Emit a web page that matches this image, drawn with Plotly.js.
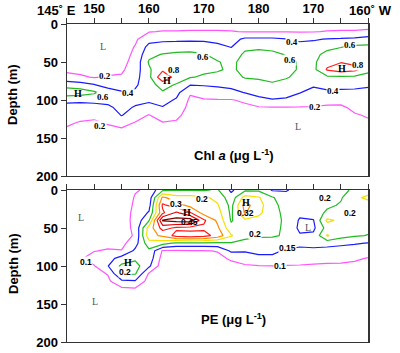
<!DOCTYPE html>
<html>
<head>
<meta charset="utf-8">
<script src="https://cdn.plot.ly/plotly-3.0.1.min.js"></script>
<style>html,body{margin:0;padding:0;background:#fff;}#chart{width:400px;height:353px;}</style>
</head>
<body>
<div id="chart"></div>
<script>
// Station longitudes (degrees east; 190 = 170W, 200 = 160W) and sample depths (m)
const lon = [145,147.5,150,152.5,155,157.5,160,162.5,165,167.5,170,172.5,175,177.5,180,182.5,185,187.5,190,192.5,195,197.5,200];
const depth = [0,10,20,30,40,50,60,70,80,90,100,110,120,130,140,150,175,200];

// Chl a profiles (ug/L), one list per longitude, values by depth
const chlProfiles = [
[0.10,0.10,0.11,0.12,0.14,0.15,0.16,0.26,0.52,0.72,0.45,0.33,0.27,0.22,0.18,0.15,0.10,0.08],
[0.10,0.10,0.11,0.12,0.13,0.14,0.16,0.22,0.48,0.70,0.45,0.30,0.24,0.19,0.16,0.14,0.10,0.08],
[0.10,0.10,0.10,0.11,0.12,0.13,0.15,0.19,0.41,0.63,0.46,0.32,0.23,0.18,0.15,0.13,0.10,0.08],
[0.10,0.10,0.10,0.11,0.12,0.13,0.16,0.21,0.32,0.50,0.46,0.36,0.26,0.21,0.17,0.14,0.10,0.08],
[0.10,0.10,0.10,0.11,0.12,0.14,0.17,0.22,0.30,0.42,0.48,0.46,0.41,0.26,0.17,0.14,0.10,0.08],
[0.10,0.13,0.17,0.21,0.24,0.27,0.30,0.33,0.37,0.43,0.46,0.38,0.28,0.19,0.16,0.14,0.10,0.08],
[0.10,0.19,0.33,0.46,0.55,0.62,0.57,0.55,0.52,0.50,0.43,0.34,0.19,0.16,0.14,0.12,0.10,0.08],
[0.10,0.21,0.36,0.48,0.61,0.68,0.76,0.95,0.68,0.58,0.46,0.39,0.30,0.19,0.15,0.13,0.10,0.08],
[0.10,0.21,0.35,0.52,0.63,0.66,0.68,0.72,0.58,0.46,0.38,0.30,0.24,0.18,0.15,0.13,0.10,0.08],
[0.10,0.22,0.36,0.52,0.64,0.67,0.65,0.61,0.41,0.22,0.17,0.15,0.13,0.12,0.11,0.10,0.09,0.08],
[0.10,0.22,0.36,0.50,0.61,0.66,0.63,0.58,0.42,0.26,0.19,0.16,0.14,0.12,0.11,0.10,0.09,0.08],
[0.10,0.22,0.34,0.45,0.55,0.61,0.62,0.55,0.44,0.30,0.19,0.16,0.14,0.12,0.11,0.10,0.09,0.08],
[0.10,0.21,0.32,0.39,0.50,0.56,0.57,0.55,0.46,0.34,0.19,0.16,0.14,0.12,0.11,0.10,0.09,0.08],
[0.10,0.19,0.44,0.56,0.63,0.66,0.65,0.61,0.52,0.41,0.23,0.16,0.14,0.12,0.11,0.10,0.09,0.08],
[0.10,0.19,0.44,0.57,0.65,0.68,0.67,0.62,0.55,0.45,0.36,0.18,0.15,0.12,0.11,0.10,0.09,0.08],
[0.10,0.19,0.44,0.55,0.64,0.68,0.67,0.64,0.58,0.48,0.39,0.19,0.15,0.12,0.11,0.10,0.09,0.08],
[0.10,0.19,0.41,0.52,0.59,0.66,0.66,0.62,0.52,0.45,0.38,0.19,0.15,0.12,0.11,0.10,0.09,0.08],
[0.10,0.19,0.36,0.48,0.55,0.58,0.58,0.54,0.48,0.41,0.30,0.19,0.15,0.12,0.11,0.10,0.09,0.08],
[0.10,0.19,0.38,0.48,0.54,0.56,0.55,0.50,0.43,0.33,0.26,0.19,0.15,0.12,0.11,0.10,0.09,0.08],
[0.10,0.21,0.41,0.54,0.66,0.74,0.82,0.56,0.48,0.36,0.28,0.16,0.14,0.12,0.11,0.10,0.09,0.08],
[0.10,0.22,0.42,0.59,0.70,0.79,0.90,0.56,0.46,0.36,0.27,0.16,0.14,0.12,0.11,0.10,0.09,0.08],
[0.10,0.22,0.44,0.64,0.70,0.76,0.85,0.56,0.45,0.36,0.30,0.25,0.18,0.14,0.12,0.10,0.09,0.08],
[0.10,0.24,0.48,0.64,0.68,0.70,0.66,0.52,0.42,0.36,0.32,0.28,0.22,0.17,0.14,0.12,0.10,0.08]
];

// PE profiles (ug/L), one list per longitude, values by depth
const peProfiles = [
[0.05,0.05,0.05,0.05,0.05,0.06,0.06,0.07,0.08,0.09,0.09,0.08,0.07,0.06,0.06,0.05,0.05,0.05],
[0.05,0.05,0.05,0.05,0.06,0.06,0.07,0.08,0.09,0.095,0.095,0.09,0.08,0.07,0.06,0.06,0.05,0.05],
[0.05,0.05,0.05,0.055,0.06,0.065,0.07,0.08,0.098,0.12,0.097,0.085,0.075,0.065,0.06,0.055,0.05,0.05],
[0.05,0.05,0.055,0.06,0.065,0.07,0.075,0.085,0.105,0.13,0.148,0.103,0.09,0.08,0.07,0.06,0.05,0.05],
[0.055,0.06,0.065,0.07,0.075,0.08,0.082,0.085,0.102,0.17,0.21,0.205,0.14,0.09,0.075,0.07,0.06,0.05],
[0.095,0.105,0.11,0.115,0.115,0.11,0.105,0.13,0.16,0.19,0.22,0.205,0.145,0.095,0.08,0.07,0.06,0.05],
[0.11,0.12,0.13,0.155,0.195,0.27,0.28,0.23,0.19,0.18,0.16,0.095,0.08,0.07,0.065,0.06,0.05,0.05],
[0.19,0.31,0.36,0.34,0.455,0.37,0.31,0.22,0.095,0.08,0.07,0.065,0.06,0.06,0.055,0.05,0.05,0.05],
[0.195,0.27,0.32,0.41,0.47,0.34,0.37,0.19,0.095,0.08,0.07,0.065,0.06,0.06,0.055,0.05,0.05,0.05],
[0.195,0.27,0.285,0.355,0.48,0.33,0.38,0.19,0.097,0.09,0.085,0.08,0.075,0.07,0.065,0.06,0.05,0.05],
[0.195,0.26,0.27,0.28,0.36,0.34,0.37,0.19,0.097,0.09,0.085,0.08,0.075,0.07,0.065,0.06,0.05,0.05],
[0.205,0.235,0.255,0.27,0.29,0.31,0.33,0.19,0.102,0.09,0.085,0.08,0.075,0.07,0.065,0.06,0.05,0.05],
[0.14,0.17,0.185,0.19,0.195,0.215,0.255,0.195,0.16,0.105,0.09,0.085,0.08,0.07,0.065,0.06,0.05,0.05],
[0.19,0.27,0.32,0.305,0.24,0.22,0.21,0.19,0.155,0.12,0.095,0.08,0.075,0.07,0.065,0.06,0.05,0.05],
[0.19,0.255,0.27,0.26,0.235,0.22,0.205,0.185,0.16,0.14,0.098,0.09,0.08,0.075,0.07,0.065,0.055,0.05],
[0.145,0.205,0.215,0.22,0.22,0.215,0.205,0.18,0.16,0.14,0.099,0.09,0.08,0.075,0.07,0.065,0.055,0.05],
[0.145,0.17,0.18,0.185,0.19,0.19,0.195,0.175,0.145,0.12,0.098,0.09,0.08,0.075,0.07,0.065,0.055,0.05],
[0.17,0.175,0.17,0.16,0.145,0.14,0.155,0.16,0.14,0.12,0.097,0.09,0.08,0.075,0.07,0.065,0.055,0.05],
[0.175,0.18,0.175,0.17,0.148,0.14,0.16,0.165,0.14,0.115,0.095,0.09,0.08,0.075,0.07,0.065,0.055,0.05],
[0.18,0.185,0.19,0.21,0.26,0.22,0.255,0.17,0.13,0.11,0.095,0.09,0.08,0.075,0.07,0.065,0.055,0.05],
[0.17,0.195,0.205,0.23,0.24,0.23,0.22,0.16,0.13,0.11,0.094,0.09,0.08,0.075,0.07,0.065,0.055,0.05],
[0.22,0.24,0.225,0.22,0.225,0.215,0.205,0.155,0.125,0.105,0.092,0.085,0.08,0.075,0.07,0.065,0.055,0.05],
[0.23,0.26,0.23,0.22,0.22,0.21,0.198,0.148,0.12,0.098,0.09,0.085,0.08,0.075,0.07,0.065,0.055,0.05]
];

// Contour levels and their colours
const chlLevels = [0.2, 0.4, 0.6, 0.8];
const chlColors = ['#ff55ff', '#1a1aff', '#22bb22', '#ff2020'];
const peLevels = [0.1, 0.15, 0.2, 0.25, 0.3, 0.35, 0.4, 0.45];
const peColors = ['#ff55ff', '#1a1aff', '#22bb22', '#f5e000', '#ff8c00', '#ff1a1a', '#e00000', '#7a0000'];

// Longitude tick labels (labelled ticks) and unlabelled tick positions
const lonLabelTicks = [150,160,170,180,190];
const lonLabelText = ['150','160','170','180','170'];
const lonMinorTicks = [145,155,165,175,185,195,200];
const depthTicks = [0,50,100,150,200];

function toRows(profiles) {
  return depth.map((d, i) => profiles.map(p => p[i]));
}
const chlZ = toRows(chlProfiles);
const peZ = toRows(peProfiles);

const traces = [];
chlLevels.forEach((lv, k) => {
  traces.push({type:'contour', x: lon, y: depth, z: chlZ, xaxis:'x', yaxis:'y',
    contours:{start: lv, end: lv, size: 1, coloring:'none', showlabels:false},
    line:{color: chlColors[k], width: 1.2, smoothing: 0}, showscale:false, hoverinfo:'skip'});
});
peLevels.forEach((lv, k) => {
  traces.push({type:'contour', x: lon, y: depth, z: peZ, xaxis:'x2', yaxis:'y2',
    contours:{start: lv, end: lv, size: 1, coloring:'none', showlabels:false},
    line:{color: peColors[k], width: 1.2, smoothing: 0}, showscale:false, hoverinfo:'skip'});
});

const W = 400, H = 353;
const px = v => v / W;
const py = v => 1 - v / H;
const SANS = 'Liberation Sans, Arial, sans-serif';
const SERIF = 'Liberation Serif, Times New Roman, serif';

const axisCommon = {
  showgrid:false, zeroline:false, showline:true, mirror:true,
  linecolor:'#333', linewidth:1.2, ticks:'outside', ticklen:5, tickwidth:1, tickcolor:'#333'
};
const tickFont = {family: SANS, size: 13, color:'#000', weight:'bold'};
const minorX = {tickmode:'array', tickvals: lonMinorTicks, ticks:'outside', ticklen:5, tickwidth:1, tickcolor:'#333', showgrid:false};

const xDomain = [px(66.7), px(368.3)];
const layout = {
  width: W, height: H, margin:{l:0,r:0,t:0,b:0},
  paper_bgcolor:'#fff', plot_bgcolor:'#fff', showlegend:false,
  xaxis: Object.assign({}, axisCommon, {domain: xDomain, range:[145,200], side:'top', anchor:'y',
    tickmode:'array', tickvals: lonLabelTicks, ticktext: lonLabelText, tickfont: tickFont, minor: minorX}),
  yaxis: Object.assign({}, axisCommon, {domain:[py(176), py(24)], range:[200,0], anchor:'x',
    tickmode:'array', tickvals: depthTicks, tickfont: tickFont}),
  xaxis2: Object.assign({}, axisCommon, {domain: xDomain, range:[145,200], side:'top', anchor:'y2',
    tickmode:'array', tickvals: lonLabelTicks, showticklabels:false, minor: minorX}),
  yaxis2: Object.assign({}, axisCommon, {domain:[py(342), py(190)], range:[200,0], anchor:'x2',
    tickmode:'array', tickvals: depthTicks, tickfont: tickFont}),
  annotations: []
};

function lab(text, x, y, panel, font, bg) {
  layout.annotations.push({text: text, x: x, y: y, xref: panel === 1 ? 'x' : 'x2', yref: panel === 1 ? 'y' : 'y2',
    showarrow:false, font: font, bgcolor: bg ? 'rgba(255,255,255,0.95)' : 'rgba(0,0,0,0)', borderpad:0,
    xanchor:'center', yanchor:'middle'});
}
const fVal1 = {family: SERIF, size: 9, color:'#000', weight:'bold'};
const fH = {family: SERIF, size: 10, color:'#000', weight:'bold'};
const fL = {family: SERIF, size: 10, color:'#555'};
const fVal2 = {family: SANS, size: 8.5, color:'#000', weight:'bold'};

// Top panel labels
lab('L', 151.6, 30, 1, fL);
lab('0.2', 152, 68, 1, fVal1, true);
lab('H', 147, 91, 1, fH);
lab('0.6', 151.6, 96, 1, fVal1, true);
lab('0.4', 156.2, 91, 1, fVal1, true);
lab('0.2', 151, 134, 1, fVal1, true);
lab('0.8', 164.6, 61, 1, fVal1, true);
lab('H', 163.3, 74, 1, fH);
lab('0.6', 169.8, 43, 1, fVal1, true);
lab('0.4', 186.1, 24, 1, fVal1, true);
lab('0.6', 185.7, 47, 1, fVal1, true);
lab('0.6', 196.7, 28, 1, fVal1, true);
lab('H', 195.2, 58, 1, fH);
lab('0.8', 198.2, 54, 1, fVal1, true);
lab('0.4', 193.6, 88, 1, fVal1, true);
lab('0.2', 190.3, 109, 1, fVal1, true);
lab('L', 187.2, 135, 1, fL);

// Bottom panel labels
lab('L', 147.6, 36, 2, fL);
lab('0.1', 148.5, 95, 2, fVal2, true);
lab('H', 156.2, 96, 2, fH);
lab('0.2', 155.6, 108, 2, fVal2, true);
lab('L', 150.2, 147, 2, fL);
lab('0.3', 165, 19, 2, fVal2, true);
lab('H', 167, 29, 2, fH);
lab('0.45', 167.4, 42, 2, fVal2);
lab('0.2', 169.7, 12, 2, fVal2, true);
lab('H', 177.7, 17, 2, fH);
lab('0.32', 177.6, 30, 2, fVal2);
lab('0.2', 179.4, 58, 2, fVal2, true);
lab('0.15', 185.2, 76, 2, fVal2, true);
lab('0.1', 183.9, 100, 2, fVal2, true);
lab('L', 189, 50, 2, fL);
lab('0.2', 192.1, 10, 2, fVal2, true);
lab('0.2', 196.7, 30, 2, fVal2, true);

// Paper annotations: titles, end tick labels
function paperText(text, x, y, font, angle) {
  layout.annotations.push({text: text, x: px(x), y: py(y), xref:'paper', yref:'paper', showarrow:false,
    font: font, xanchor:'center', yanchor:'middle', textangle: angle || 0});
}
const fTitle = {family: SANS, size: 13, color:'#000', weight:'bold'};
paperText('145˚ E', 57, 11, tickFont);
paperText('160˚ W', 370, 11, tickFont);
paperText('Chl <i>a</i> (μg L<sup>-1</sup>)', 234, 155, fTitle);
paperText('PE (μg L<sup>-1</sup>)', 233, 319, fTitle);
paperText('Depth (m)', 13, 95, fTitle, -90);
paperText('Depth (m)', 13, 264, fTitle, -90);

Plotly.newPlot('chart', traces, layout, {staticPlot:true, displayModeBar:false});
</script>
</body>
</html>
